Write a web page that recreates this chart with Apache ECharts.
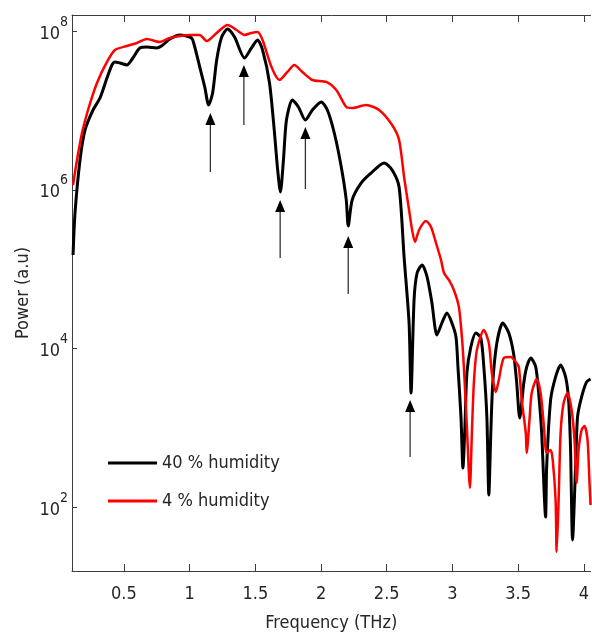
<!DOCTYPE html>
<html>
<head>
<meta charset="utf-8">
<script src="https://cdn.jsdelivr.net/npm/echarts@6/dist/echarts.min.js"></script>
<style>
  html, body { margin: 0; padding: 0; background: #ffffff; }
  #chart { width: 592px; height: 640px; }
</style>
</head>
<body>
<div id="chart"></div>
<script>
// THz spectra; power is stored as its base-10 exponent (a.u.)
const freq40 = [0.113, 0.128, 0.166, 0.204, 0.265, 0.318, 0.371, 0.409, 0.432, 0.470,
  0.523, 0.568, 0.621, 0.675, 0.750, 0.796, 0.849, 0.925, 1.001, 1.024,
  1.077, 1.115, 1.145, 1.175, 1.206, 1.244, 1.289, 1.342, 1.418, 1.471,
  1.517, 1.555, 1.608, 1.646, 1.668, 1.691, 1.714, 1.737, 1.782, 1.828,
  1.881, 1.934, 2.002, 2.048, 2.101, 2.154, 2.192, 2.207, 2.237, 2.306,
  2.382, 2.480, 2.541, 2.594, 2.632, 2.670, 2.685, 2.708, 2.731, 2.769,
  2.807, 2.844, 2.882, 2.920, 2.958, 2.996, 3.027, 3.042, 3.065, 3.080,
  3.095, 3.110, 3.140, 3.178, 3.216, 3.239, 3.262, 3.277, 3.292, 3.307,
  3.338, 3.383, 3.429, 3.467, 3.489, 3.512, 3.543, 3.565, 3.596, 3.634,
  3.656, 3.679, 3.709, 3.717, 3.747, 3.785, 3.823, 3.861, 3.884, 3.899,
  3.914, 3.937, 3.952, 3.983, 4.021, 4.051];
const exp40 = [5.179, 5.708, 6.375, 6.753, 7.005, 7.156, 7.408, 7.572, 7.610, 7.597,
  7.572, 7.660, 7.786, 7.798, 7.786, 7.824, 7.899, 7.950, 7.924, 7.887,
  7.547, 7.295, 7.068, 7.219, 7.635, 7.924, 8.025, 7.924, 7.660, 7.786,
  7.887, 7.761, 7.345, 6.715, 6.287, 5.972, 6.375, 6.879, 7.131, 7.043,
  6.879, 7.005, 7.106, 7.005, 6.715, 6.287, 5.872, 5.544, 5.872, 6.086,
  6.212, 6.338, 6.249, 6.035, 5.154, 4.323, 3.441, 4.612, 4.952, 5.053,
  4.902, 4.574, 4.171, 4.323, 4.448, 4.323, 4.146, 3.768, 3.139, 2.496,
  3.013, 3.693, 4.020, 4.197, 4.134, 3.768, 3.139, 2.156, 2.937, 3.567,
  4.071, 4.323, 4.197, 3.920, 3.567, 3.126, 3.567, 3.768, 3.882, 3.768,
  3.441, 2.937, 1.879, 2.509, 3.353, 3.643, 3.794, 3.643, 3.353, 2.723,
  1.590, 2.509, 3.139, 3.391, 3.580, 3.617];

const freq4 = [0.113, 0.143, 0.181, 0.227, 0.295, 0.371, 0.432, 0.523, 0.599, 0.675,
  0.773, 0.849, 0.925, 1.001, 1.077, 1.130, 1.206, 1.289, 1.357, 1.418,
  1.471, 1.517, 1.555, 1.623, 1.684, 1.744, 1.797, 1.858, 1.934, 2.040,
  2.116, 2.192, 2.237, 2.344, 2.442, 2.541, 2.594, 2.632, 2.670, 2.693,
  2.715, 2.746, 2.799, 2.837, 2.875, 2.913, 2.936, 2.973, 3.011, 3.049,
  3.072, 3.087, 3.110, 3.133, 3.148, 3.163, 3.186, 3.239, 3.277, 3.300,
  3.330, 3.353, 3.391, 3.444, 3.482, 3.505, 3.527, 3.558, 3.565, 3.588,
  3.603, 3.641, 3.671, 3.694, 3.717, 3.747, 3.763, 3.785, 3.793, 3.808,
  3.823, 3.846, 3.876, 3.907, 3.929, 3.945, 3.960, 3.983, 4.005, 4.028,
  4.043, 4.051];
const exp4 = [6.061, 6.375, 6.715, 7.005, 7.345, 7.610, 7.761, 7.811, 7.849, 7.899,
  7.861, 7.912, 7.937, 7.950, 7.950, 7.874, 7.975, 8.076, 8.013, 7.950,
  7.975, 7.987, 7.887, 7.547, 7.383, 7.484, 7.572, 7.484, 7.383, 7.358,
  7.257, 7.043, 7.030, 7.068, 7.005, 6.816, 6.627, 6.161, 5.746, 5.494,
  5.343, 5.494, 5.607, 5.532, 5.330, 5.116, 4.952, 4.864, 4.738, 4.524,
  4.146, 3.768, 3.013, 2.245, 2.937, 3.567, 3.983, 4.234, 4.071, 3.693,
  3.454, 3.605, 3.882, 3.894, 3.831, 3.768, 3.353, 2.937, 2.685, 3.139,
  3.441, 3.617, 3.441, 3.063, 2.685, 2.723, 2.597, 2.093, 1.439, 2.093,
  2.937, 3.315, 3.441, 3.227, 2.849, 2.308, 2.723, 2.975, 3.025, 2.849,
  2.308, 2.030];

// Absorption-line markers: frequency, arrow tip and tail (exponents)
const arrowFreq = [1.158, 1.413, 1.689, 1.881, 2.207, 2.678];
const arrowTipExp = [6.967, 7.572, 5.872, 6.791, 5.418, 3.353];
const arrowTailExp = [6.224, 6.816, 5.141, 6.010, 4.688, 2.635];

const xTicks = [0.5, 1, 1.5, 2, 2.5, 3, 3.5, 4];
const yTicks = [1e2, 1e4, 1e6, 1e8];
const seriesNames = ['40 % humidity', '4 % humidity'];
const seriesColors = ['#000000', '#ff0000'];

const FONT = "'Liberation Sans Narrow', 'DejaVu Sans Condensed', 'Arial Narrow', sans-serif";
const FS = 18;
const TEXT = '#262626';
const AXIS = '#3c3c3c';

const toPoints = (fs, es) => fs.map((f, i) => [f, Math.pow(10, es[i])]);

const chart = echarts.init(document.getElementById('chart'), null, { renderer: 'canvas' });

chart.setOption({
  animation: false,
  backgroundColor: '#ffffff',
  grid: { left: 72, top: 15, right: 0, bottom: 69 },
  legend: {
    data: seriesNames,
    orient: 'vertical',
    left: 108,
    top: 452,
    padding: 0,
    icon: 'rect',
    itemWidth: 49,
    itemHeight: 3,
    itemGap: 16,
    textStyle: { fontFamily: FONT, fontSize: FS, color: TEXT, lineHeight: 22 }
  },
  xAxis: [
    {
      type: 'value',
      position: 'bottom',
      min: 0.105,
      max: 4.051,
      name: 'Frequency (THz)',
      nameLocation: 'middle',
      nameGap: 43,
      nameMoveOverlap: false,
      nameTextStyle: { fontFamily: FONT, fontSize: FS, color: TEXT },
      axisLine: { lineStyle: { color: AXIS, width: 1 } },
      axisTick: { inside: true, length: 7, customValues: xTicks, lineStyle: { color: AXIS } },
      axisLabel: {
        customValues: xTicks,
        margin: 14,
        fontFamily: FONT,
        fontSize: FS,
        color: TEXT
      },
      splitLine: { show: false }
    },
    {
      type: 'value',
      position: 'top',
      min: 0.105,
      max: 4.051,
      axisLine: { lineStyle: { color: AXIS, width: 1 } },
      axisTick: { inside: true, length: 7, customValues: xTicks, lineStyle: { color: AXIS } },
      axisLabel: { show: false },
      splitLine: { show: false }
    }
  ],
  yAxis: {
    type: 'log',
    logBase: 10,
    min: 15.8,
    max: 1.59e8,
    name: 'Power (a.u)',
    nameLocation: 'middle',
    nameGap: 40,
    nameMoveOverlap: false,
    nameTextStyle: { fontFamily: FONT, fontSize: FS, color: TEXT },
    axisLine: { show: true, lineStyle: { color: AXIS, width: 1 } },
    axisTick: { inside: true, length: 5, customValues: yTicks, lineStyle: { color: AXIS } },
    axisLabel: {
      customValues: yTicks,
      margin: 4,
      color: TEXT,
      formatter: v => '{b|10}{s|' + Math.round(Math.log10(v)) + '}',
      rich: {
        b: { fontFamily: FONT, fontSize: FS, color: TEXT, padding: [6, 0, 0, 0] },
        s: { fontFamily: FONT, fontSize: 14, color: TEXT, padding: [0, 0, 18, 0] }
      }
    },
    splitLine: { show: false },
    minorTick: { show: false }
  },
  series: [
    {
      name: seriesNames[0],
      type: 'line',
      data: toPoints(freq40, exp40),
      showSymbol: false,
      smooth: 0.25,
      color: seriesColors[0],
      lineStyle: { color: seriesColors[0], width: 3 },
      z: 2
    },
    {
      name: seriesNames[1],
      type: 'line',
      data: toPoints(freq4, exp4),
      showSymbol: false,
      smooth: 0.25,
      color: seriesColors[1],
      lineStyle: { color: seriesColors[1], width: 2.5 },
      z: 3
    },
    {
      name: 'markers',
      type: 'custom',
      data: arrowFreq.map((f, i) => [f, Math.pow(10, arrowTipExp[i]), Math.pow(10, arrowTailExp[i])]),
      encode: { x: 0, y: [1, 2] },
      z: 4,
      renderItem: (params, api) => {
        const tip = api.coord([api.value(0), api.value(1)]);
        const tail = api.coord([api.value(0), api.value(2)]);
        const headH = 12, headW = 5;
        return {
          type: 'group',
          children: [
            {
              type: 'line',
              shape: { x1: tip[0], y1: tip[1] + headH - 1, x2: tail[0], y2: tail[1] },
              style: { stroke: '#333333', lineWidth: 1.3 }
            },
            {
              type: 'polygon',
              shape: { points: [[tip[0], tip[1]], [tip[0] - headW, tip[1] + headH], [tip[0] + headW, tip[1] + headH]] },
              style: { fill: '#000000' }
            }
          ]
        };
      }
    }
  ]
});
</script>
</body>
</html>
